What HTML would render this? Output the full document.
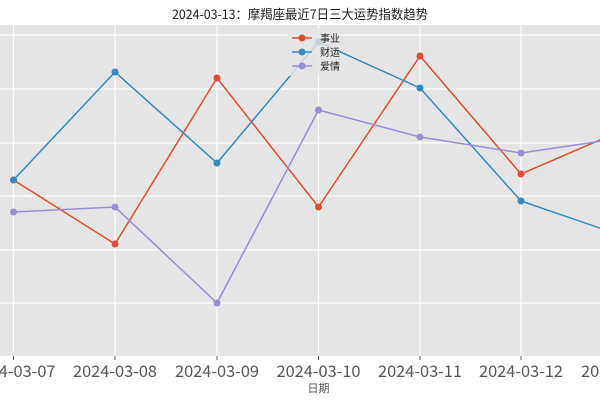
<!DOCTYPE html>
<html><head><meta charset="utf-8"><style>
body{margin:0;background:#fff;}
svg text{font-family:"Noto Sans CJK SC","Liberation Sans",sans-serif;}
</style></head><body>
<svg width="600" height="400" xmlns="http://www.w3.org/2000/svg">
<rect x="0" y="25" width="600" height="331" fill="#E5E5E5"/>
<g stroke="#fff" stroke-width="1.2">
<line x1="0" x2="600" y1="35" y2="35"/><line x1="0" x2="600" y1="89" y2="89"/>
<line x1="0" x2="600" y1="143" y2="143"/><line x1="0" x2="600" y1="196" y2="196"/>
<line x1="0" x2="600" y1="250" y2="250"/><line x1="0" x2="600" y1="303" y2="303"/>
<line x1="13.5" x2="13.5" y1="25" y2="356"/><line x1="115" x2="115" y1="25" y2="356"/>
<line x1="217" x2="217" y1="25" y2="356"/><line x1="318.5" x2="318.5" y1="25" y2="356"/>
<line x1="420" x2="420" y1="25" y2="356"/><line x1="521" x2="521" y1="25" y2="356"/>
</g>
<g stroke="#555" stroke-width="1">
<line x1="13.5" x2="13.5" y1="356" y2="360"/><line x1="115" x2="115" y1="356" y2="360"/>
<line x1="217" x2="217" y1="356" y2="360"/><line x1="318.5" x2="318.5" y1="356" y2="360"/>
<line x1="420" x2="420" y1="356" y2="360"/><line x1="521" x2="521" y1="356" y2="360"/>
</g>
<g fill="none" stroke-width="1.5">
<polyline stroke="#E24A33" points="13.5,180 115,244 217,78 318.5,207 420,56 521,174 623,130"/>
<polyline stroke="#348ABD" points="13.5,180 115,72 217,163 318.5,42 420,88 521,201 623,236"/>
<polyline stroke="#988ED5" points="13.5,212 115,207 217,303 318.5,110 420,137 521,153 623,138"/>
</g>
<g fill="#E24A33"><circle cx="13.5" cy="180" r="3.5"/><circle cx="115" cy="244" r="3.5"/><circle cx="217" cy="78" r="3.5"/><circle cx="318.5" cy="207" r="3.5"/><circle cx="420" cy="56" r="3.5"/><circle cx="521" cy="174" r="3.5"/></g>
<g fill="#348ABD"><circle cx="13.5" cy="180" r="3.5"/><circle cx="115" cy="72" r="3.5"/><circle cx="217" cy="163" r="3.5"/><circle cx="318.5" cy="42" r="3.5"/><circle cx="420" cy="88" r="3.5"/><circle cx="521" cy="201" r="3.5"/></g>
<g fill="#988ED5"><circle cx="13.5" cy="212" r="3.5"/><circle cx="115" cy="207" r="3.5"/><circle cx="217" cy="303" r="3.5"/><circle cx="318.5" cy="110" r="3.5"/><circle cx="420" cy="137" r="3.5"/><circle cx="521" cy="153" r="3.5"/></g>
<rect x="287" y="28" width="48" height="48" fill="#E5E5E5" fill-opacity="0.8" rx="2"/>
<g stroke-width="1.5">
<line x1="292" x2="312" y1="38" y2="38" stroke="#E24A33"/><circle cx="302" cy="38" r="3.5" fill="#E24A33"/>
<line x1="292" x2="312" y1="52" y2="52" stroke="#348ABD"/><circle cx="302" cy="52" r="3.5" fill="#348ABD"/>
<line x1="292" x2="312" y1="66" y2="66" stroke="#988ED5"/><circle cx="302" cy="66" r="3.5" fill="#988ED5"/>
</g>
<g font-size="10" fill="#222">
<text x="320" y="42">事业</text><text x="320" y="56">财运</text><text x="320" y="70">爱情</text>
</g>
<text x="300" y="19" font-size="13" text-anchor="middle" fill="#222" textLength="256" lengthAdjust="spacingAndGlyphs">2024-03-13：摩羯座最近7日三大运势指数趋势</text>
<g font-size="16" fill="#555" text-anchor="middle">
<text x="13.5" y="377" textLength="84" lengthAdjust="spacingAndGlyphs">2024-03-07</text><text x="115" y="377" textLength="84" lengthAdjust="spacingAndGlyphs">2024-03-08</text>
<text x="217" y="377" textLength="84" lengthAdjust="spacingAndGlyphs">2024-03-09</text><text x="318.5" y="377" textLength="84" lengthAdjust="spacingAndGlyphs">2024-03-10</text>
<text x="420" y="377" textLength="84" lengthAdjust="spacingAndGlyphs">2024-03-11</text><text x="521" y="377" textLength="84" lengthAdjust="spacingAndGlyphs">2024-03-12</text>
<text x="623" y="377" textLength="84" lengthAdjust="spacingAndGlyphs">2024-03-13</text>
</g>
<text x="318.5" y="392" font-size="11" fill="#555" text-anchor="middle">日期</text>
</svg>
</body></html>
